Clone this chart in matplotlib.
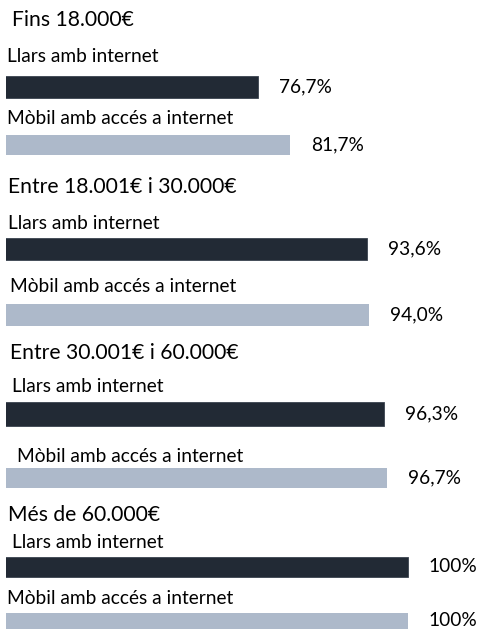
import matplotlib
matplotlib.use("Agg")
import matplotlib.pyplot as plt

# ---- data ----
groups = ["Fins 18.000€", "Entre 18.001€ i 30.000€", "Entre 30.001€ i 60.000€", "Més de 60.000€"]
series = ["Llars amb internet", "Mòbil amb accés a internet"]
llars = [76.7, 93.6, 96.3, 100]
mobil = [81.7, 94.0, 96.7, 100]
llars_lbl = ["76,7%", "93,6%", "96,3%", "100%"]
mobil_lbl = ["81,7%", "94,0%", "96,7%", "100%"]

# ---- layout (pixels, top-based) ----
W, H = 479, 630
title_y = [20, 187, 353, 515]
title_x = [12, 8, 10, 8]
lab1_y = [57, 223, 387, 542]
lab1_x = [7, 8, 12, 12]
bar1_y = [87, 249, 414, 567]
bar1_h = [22, 22, 24, 20]
lab2_y = [118, 287, 457, 598]
lab2_x = [7, 10, 17, 7]
bar2_y = [145, 315, 478, 621]
bar2_h = [20, 22, 20, 16]

DARK = "#222A35"
LIGHT = "#ADB9CA"
FONT = ["Lato", "DejaVu Sans"]

plt.rcParams["font.family"] = FONT
fig = plt.figure(figsize=(W / 100, H / 100), dpi=100)
ax = fig.add_axes([6 / W, 0, 1 - 6 / W, 1])
ax.set_xlim(37.6, 37.6 + 473 / 6.44)
ax.set_ylim(H, 0)
ax.axis("off")

ax.barh(bar1_y, llars, height=bar1_h, color=DARK, edgecolor="#3A4350", linewidth=0.6)
ax.barh(bar2_y, mobil, height=bar2_h, color=LIGHT)

off = 21 * 72 / 100
for i in range(len(groups)):
    fig.text(title_x[i] / W, 1 - title_y[i] / H, groups[i], fontsize=15.2, va="center", ha="left")
    fig.text(lab1_x[i] / W, 1 - lab1_y[i] / H, series[0], fontsize=13.8, va="center", ha="left")
    fig.text(lab2_x[i] / W, 1 - lab2_y[i] / H, series[1], fontsize=13.8, va="center", ha="left")
    ax.annotate(llars_lbl[i], xy=(llars[i], bar1_y[i]), xytext=(off, 0), textcoords="offset points",
                va="center", ha="left", fontsize=13.8, annotation_clip=False)
    ax.annotate(mobil_lbl[i], xy=(mobil[i], bar2_y[i]), xytext=(off, 0), textcoords="offset points",
                va="center", ha="left", fontsize=13.8, annotation_clip=False)

fig.savefig("out.png", dpi=100)
